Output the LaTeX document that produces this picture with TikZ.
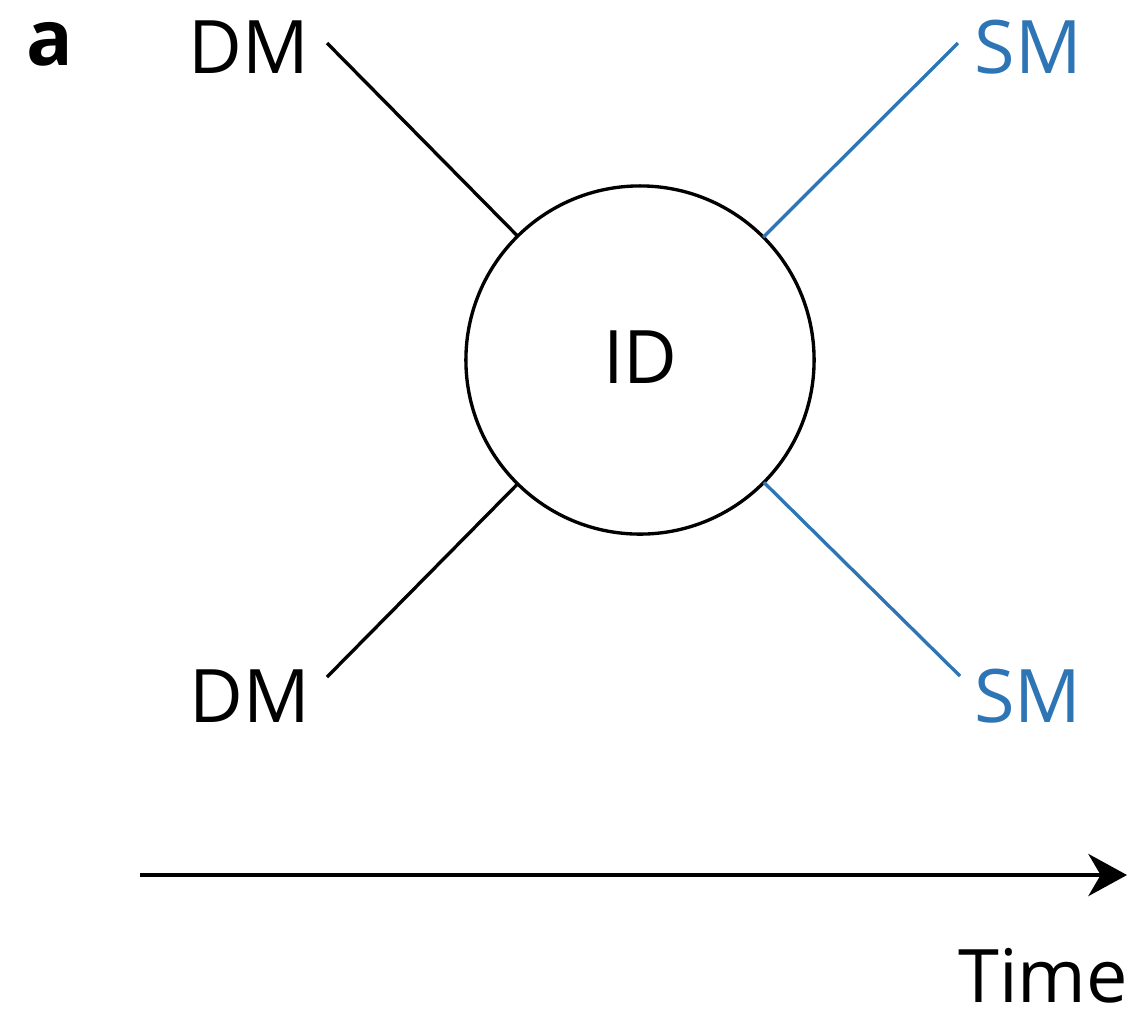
\documentclass[tikz,border=0pt]{standalone}
\usepackage{fontspec}
\setmainfont{Open Sans}
\usetikzlibrary{arrows.meta}
\definecolor{smblue}{RGB}{46,117,182}
\begin{document}
\begin{tikzpicture}[x=0.01cm,y=-0.01cm,
  lbl/.style={anchor=base,inner sep=0pt,font=\fontsize{21}{25}\selectfont},
  link/.style={line width=0.95pt},
  smlink/.style={link,draw=smblue}]
\useasboundingbox (0,0) rectangle (1142,1020);
% panel letter
\node[anchor=base west,inner sep=0pt,font=\fontsize{22}{26}\selectfont\bfseries] (panel) at (26,65) {a};
% central state
\node[circle,draw,line width=0.95pt,minimum size=3.48cm,inner sep=0pt,outer sep=0pt] (id) at (640,360) {};
\node[lbl] (idlbl) at (640.5,383) {ID};
% labels
\node[lbl] (dmtop) at (248.5,73) {DM};
\node[lbl] (dmbot) at (249.5,722) {DM};
\node[lbl,text=smblue] (smtop) at (1028.5,73) {SM};
\node[lbl,text=smblue] (smbot) at (1028,722) {SM};
% connector ends next to labels
\coordinate (dmtopend) at (327,43);
\coordinate (dmbotend) at (327,677);
\coordinate (smtopend) at (958,43);
\coordinate (smbotend) at (960,676);
\draw[link] (dmtopend) -- (id);
\draw[link] (dmbotend) -- (id);
\draw[smlink] (smtopend) -- (id);
\draw[smlink] (smbotend) -- (id);
% time axis
\coordinate (tstart) at (140,875);
\coordinate (tend) at (1127,875);
\draw[line width=1.05pt,-{Stealth[length=11pt,width=12pt,inset=3.5pt]}] (tstart) -- (tend);
\node[lbl] (time) at (1043,1002) {Time};
\end{tikzpicture}
\end{document}
